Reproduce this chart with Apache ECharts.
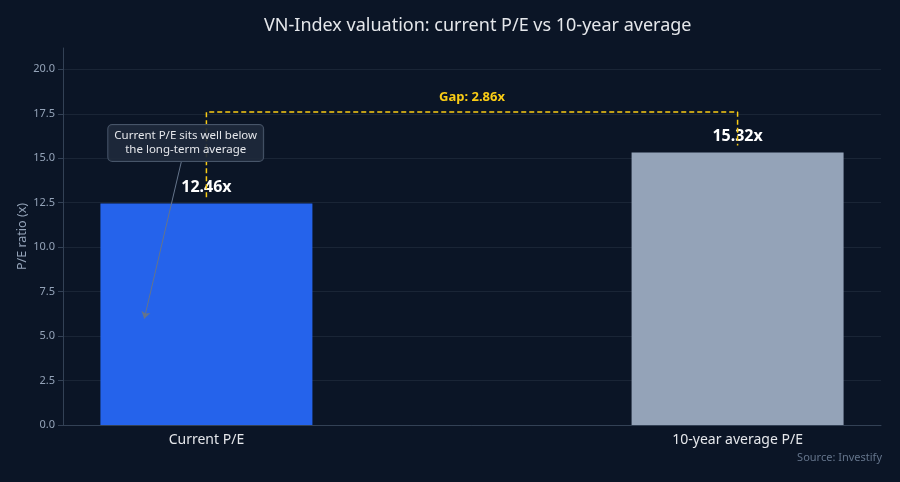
<!DOCTYPE html>
<html>
<head>
<meta charset="utf-8">
<script src="https://cdn.jsdelivr.net/npm/echarts@6/dist/echarts.min.js"></script>
<style>
  html, body { margin: 0; padding: 0; background: #0b1526; }
  #main { width: 900px; height: 482px; }
</style>
</head>
<body>
<div id="main"></div>
<script>
// data
const categories = ['Current P/E', '10-year average P/E'];
const peValues = [12.46, 15.32];
const barColors = ['#2563eb', '#94a3b8'];
const yTicks = [0, 2.5, 5, 7.5, 10, 12.5, 15, 17.5, 20];

// annotation spots (data coords)
const bracketTop = 17.6;
const notePos = [-0.039, 15.86];
const arrowFrom = [-0.047, 14.83];
const arrowTo = [-0.117, 5.98];

const gap = peValues[1] - peValues[0];

const chart = echarts.init(document.getElementById('main'));

const option = {
  backgroundColor: '#0b1526',
  textStyle: { fontFamily: 'Noto Sans' },
  title: {
    text: 'VN-Index valuation: current P/E vs 10-year average',
    left: 259,
    top: 12,
    textStyle: { color: '#e5e7eb', fontSize: 18, fontWeight: 'normal', fontFamily: 'Noto Sans' }
  },
  graphic: [{
    type: 'text',
    right: 18,
    top: 452,
    style: { text: 'Source: Investify', fill: '#64748b', fontSize: 11, fontFamily: 'Noto Sans' }
  }],
  grid: { left: 63, right: 19, top: 48, bottom: 57 },
  xAxis: {
    type: 'value',
    min: -0.27,
    max: 1.27,
    splitLine: { show: false },
    axisLine: { show: true, onZero: false, lineStyle: { color: '#334155' } },
    axisTick: { show: false },
    axisLabel: {
      customValues: [0, 1],
      formatter: v => categories[Math.round(v)],
      color: '#e5e7eb',
      fontSize: 14,
      margin: 8
    }
  },
  yAxis: {
    type: 'value',
    min: 0,
    max: 21.2,
    name: 'P/E ratio (x)',
    nameLocation: 'middle',
    nameGap: 34,
    nameMoveOverlap: false,
    nameTextStyle: { color: '#94a3b8', fontSize: 12.5 },
    splitLine: { show: false },
    axisLine: { show: true, onZero: false, lineStyle: { color: '#334155' } },
    axisTick: { show: true, customValues: yTicks, length: 5, lineStyle: { color: '#334155' } },
    axisLabel: {
      customValues: yTicks,
      formatter: v => v.toFixed(1),
      color: '#94a3b8',
      fontSize: 11
    }
  },
  series: [
    {
      // grid lines
      type: 'line',
      data: [],
      silent: true,
      z: 0,
      markLine: {
        silent: true,
        z: 0,
        symbol: 'none',
        label: { show: false },
        lineStyle: { color: '#1a2536', width: 1, type: 'solid' },
        data: yTicks.filter(t => t > 0).map(t => ({ yAxis: t }))
      }
    },
    {
      type: 'bar',
      barWidth: 212,
      data: peValues.map((v, i) => ({ value: [i, v], itemStyle: { color: barColors[i] } })),
      label: {
        show: true,
        position: 'top',
        distance: 8,
        formatter: p => p.value[1].toFixed(2) + 'x',
        color: '#ffffff',
        fontSize: 16,
        fontWeight: 'bold'
      },
      z: 2
    },
    {
      // gap bracket
      type: 'line',
      symbol: 'none',
      silent: true,
      lineStyle: { color: '#facc15', width: 1.5, type: [5, 3] },
      data: [
        [0, peValues[0] + 0.35],
        [0, bracketTop],
        [1, bracketTop],
        [1, peValues[1] + 0.4]
      ],
      markPoint: {
        symbol: 'rect',
        symbolSize: 1,
        itemStyle: { color: 'rgba(0,0,0,0)' },
        label: {
          show: true,
          position: 'inside',
          offset: [0, -15],
          formatter: 'Gap: ' + gap.toFixed(2) + 'x',
          color: '#facc15',
          fontSize: 13,
          fontWeight: 'bold'
        },
        data: [{ coord: [0.5, bracketTop] }]
      },
      z: 3
    },
    {
      // note + arrow
      type: 'line',
      symbol: 'none',
      silent: true,
      data: [],
      markLine: {
        symbol: ['none', 'arrow'],
        symbolSize: 7,
        label: { show: false },
        lineStyle: { color: '#64748b', width: 1, type: 'solid' },
        data: [[{ coord: arrowFrom }, { coord: arrowTo }]]
      },
      markPoint: {
        symbol: 'rect',
        symbolSize: 1,
        itemStyle: { color: 'rgba(0,0,0,0)' },
        label: {
          show: true,
          position: 'inside',
          formatter: 'Current P/E sits well below\nthe long-term average',
          color: '#e5e7eb',
          fontSize: 11.5,
          lineHeight: 14,
          align: 'center',
          backgroundColor: 'rgba(30,41,59,0.92)',
          borderColor: '#475569',
          borderWidth: 1,
          borderRadius: 4,
          padding: [4, 6]
        },
        data: [{ coord: notePos }]
      },
      z: 4
    }
  ]
};

chart.setOption(option);
</script>
</body>
</html>
